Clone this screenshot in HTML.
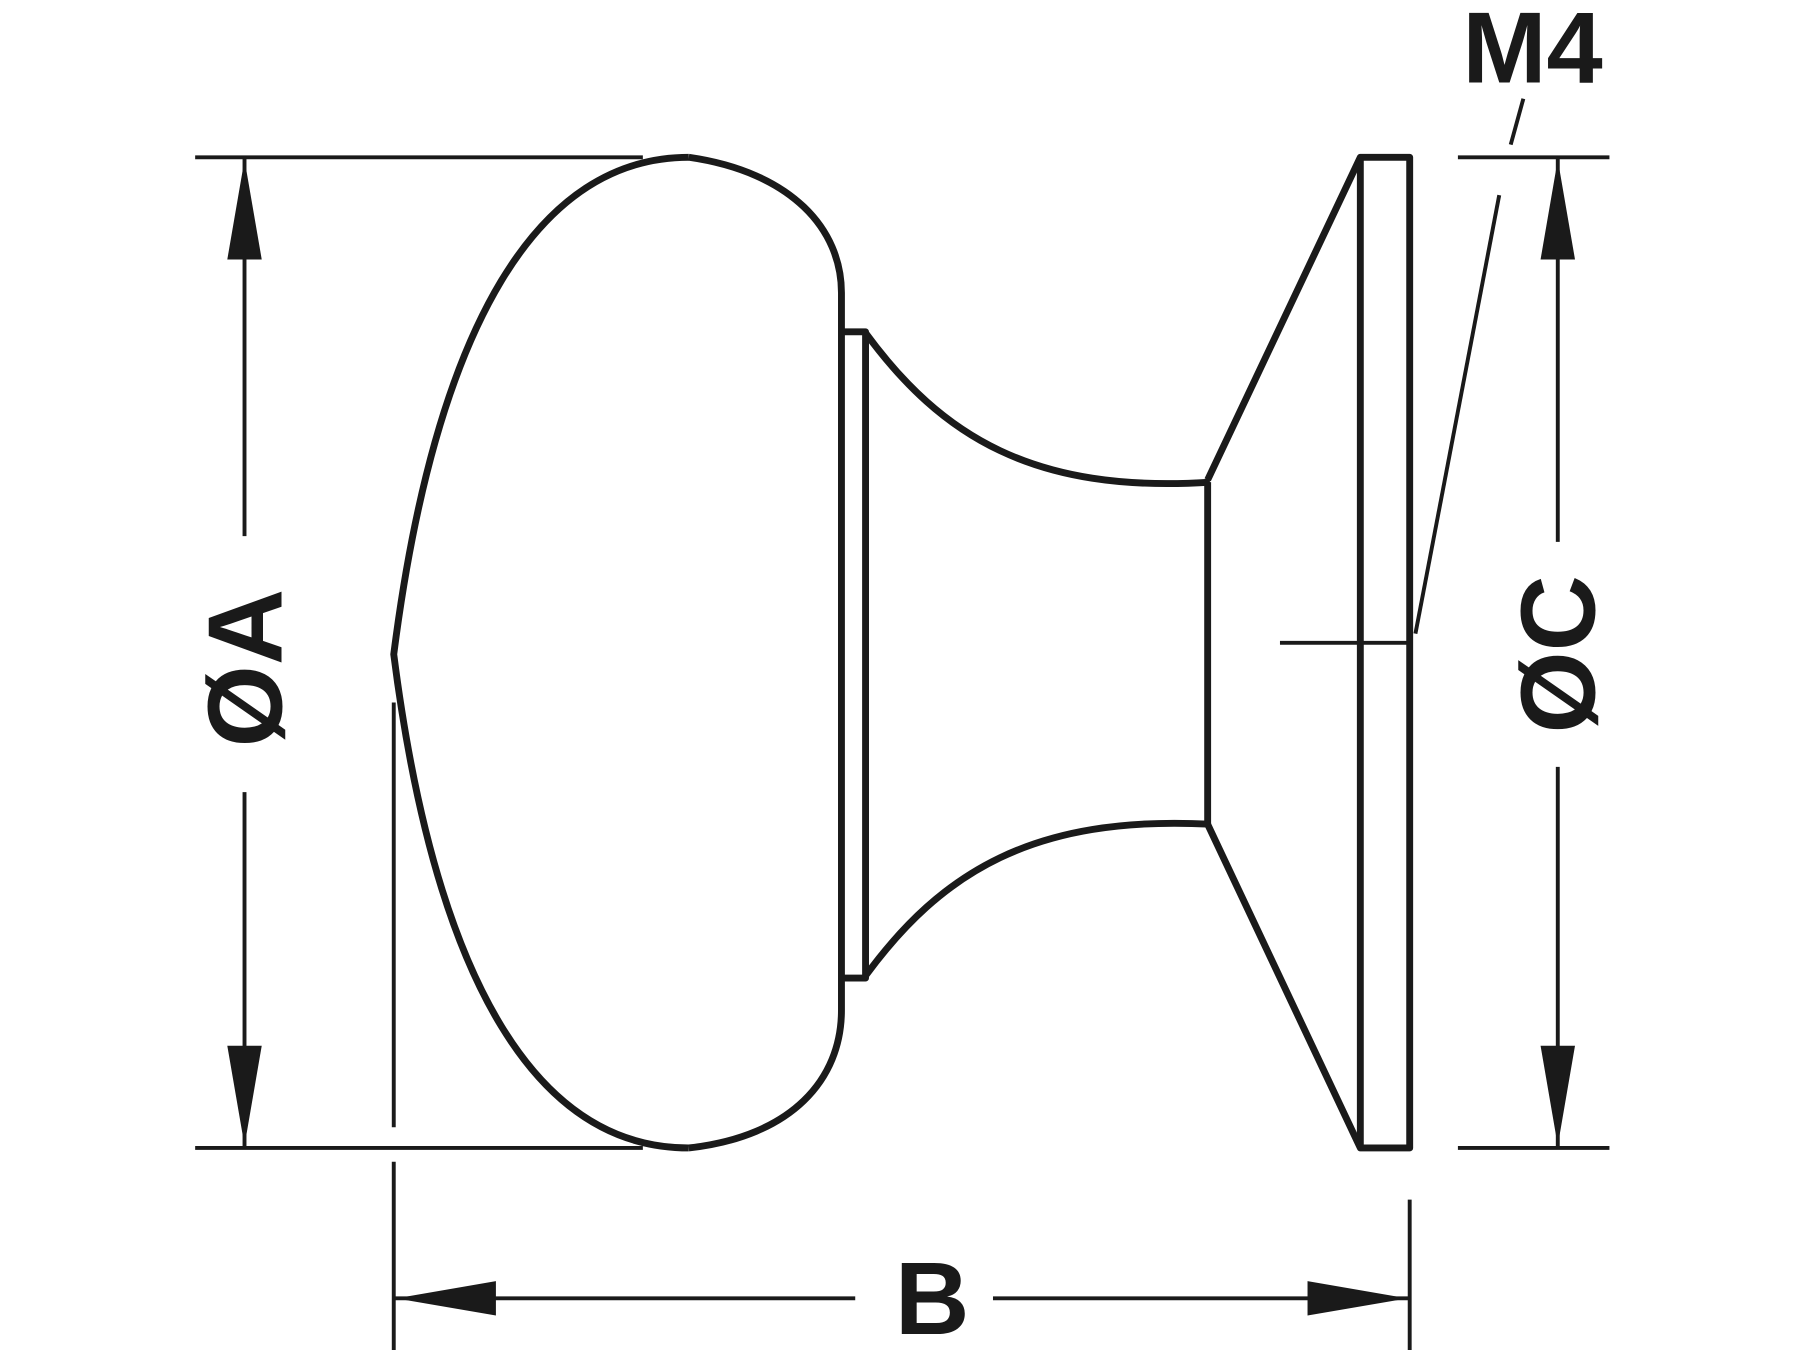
<!DOCTYPE html>
<html><head><style>html,body{margin:0;padding:0;background:#fff}svg{display:block}</style></head>
<body>
<svg width="1800" height="1350" viewBox="0 0 1568 1176" xmlns="http://www.w3.org/2000/svg">
<rect width="1568" height="1176" fill="#fff"/>
<g fill="none" stroke="#1a1a1a" stroke-width="3.4">
<line x1="170" y1="137" x2="560" y2="137"/>
<line x1="170" y1="1000" x2="560" y2="1000"/>
<line x1="213" y1="137" x2="213" y2="467"/>
<line x1="213" y1="690" x2="213" y2="1000"/>
<line x1="343" y1="612" x2="343" y2="982"/>
<line x1="343" y1="1012" x2="343" y2="1176"/>
<line x1="1228" y1="1045" x2="1228" y2="1176"/>
<line x1="343" y1="1131" x2="745" y2="1131"/>
<line x1="865" y1="1131" x2="1228" y2="1131"/>
<line x1="1270" y1="137" x2="1402" y2="137"/>
<line x1="1270" y1="1000" x2="1402" y2="1000"/>
<line x1="1357" y1="137" x2="1357" y2="472"/>
<line x1="1357" y1="668" x2="1357" y2="1000"/>
<line x1="1115" y1="560" x2="1228" y2="560"/>
<line x1="1327" y1="86" x2="1316" y2="126"/>
<line x1="1306" y1="170" x2="1233" y2="552"/>
</g>
<g fill="#1a1a1a">
<polygon points="213,139 198,226 228,226"/>
<polygon points="213,998 198,911 228,911"/>
<polygon points="1357,139 1342,226 1372,226"/>
<polygon points="1357,998 1342,911 1372,911"/>
<polygon points="345,1131 432,1116 432,1146"/>
<polygon points="1226,1131 1139,1116 1139,1146"/>
</g>
<g fill="none" stroke="#1a1a1a" stroke-width="6" stroke-linejoin="round">
<path d="M600,137 C470,137 380,280 343,570 C380,860 470,1000 600,1000"/>
<path d="M600,137 C690,150 733,200 733,255 L733,880 C733,940 690,990 600,1000"/>
<path d="M733,289 L754,289 L754,852 L733,852"/>
<path d="M754,290 C820,380 900,430 1054,420"/>
<path d="M754,850 C820,760 900,710 1054,718"/>
<line x1="1052" y1="420" x2="1052" y2="718"/>
<path d="M1052,418 L1185,137 L1228,137 L1228,1000 L1185,1000 L1052,718"/>
<line x1="1185" y1="137" x2="1185" y2="1000"/>
</g>
<g font-family="Liberation Sans, sans-serif" font-weight="bold" fill="#1a1a1a">
<text x="1335" y="72" font-size="88" text-anchor="middle">M4</text>
<text x="812" y="1162" font-size="90" text-anchor="middle">B</text>
<text transform="translate(245,582) rotate(-90)" font-size="92" text-anchor="middle">ØA</text>
<text transform="translate(1389,570) rotate(-90)" font-size="92" text-anchor="middle">ØC</text>
</g>
</svg>
</body></html>
